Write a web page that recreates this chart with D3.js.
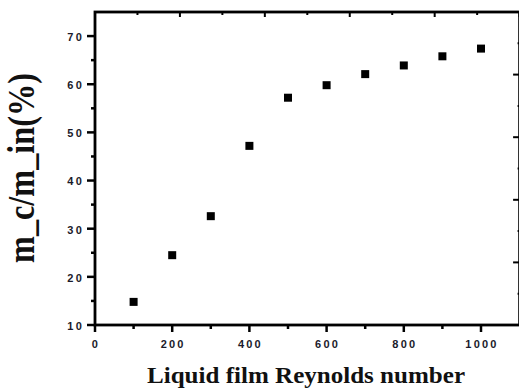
<!DOCTYPE html>
<html>
<head>
<meta charset="utf-8">
<script src="https://cdn.jsdelivr.net/npm/d3@7"></script>
<style>
  html, body { margin: 0; padding: 0; background: #fff; }
  svg { display: block; }
  .tick-label { font-family: "Liberation Sans", Arial, sans-serif; font-weight: bold; font-size: 11px; fill: #1a1a2a; letter-spacing: 2.2px; }
  .axis-title { font-family: "Liberation Serif", "Times New Roman", serif; font-weight: bold; fill: #111; }
</style>
</head>
<body>
<div id="chart"></div>
<script>
// data
const reynolds = [100, 200, 300, 400, 500, 600, 700, 800, 900, 1000];
const ratio = [14.8, 24.5, 32.6, 47.2, 57.2, 59.8, 62.1, 63.9, 65.8, 67.4];

const xTicks = [0, 100, 200, 300, 400, 500, 600, 700, 800, 900, 1000];
const xLabels = [0, 200, 400, 600, 800, 1000];
const yTicks = [10, 15, 20, 25, 30, 35, 40, 45, 50, 55, 60, 65, 70];
const yLabels = [10, 20, 30, 40, 50, 60, 70];
// top / right frame ticks (unlabelled, own subdivision)
const frameTicks = [0, 0.5, 1, 1.5, 2, 2.5, 3, 3.5, 4, 4.5, 5];

const W = 519, H = 391;
const plotLeft = 95, plotTop = 12, plotBottom = 325;

const x = d3.scaleLinear().domain([0, 1100]).range([plotLeft, 519.6]);
const y = d3.scaleLinear().domain([10, 75]).range([plotBottom, plotTop]);
const xf = d3.scaleLinear().domain([0, 5]).range([plotLeft, 519.6]);
const yf = d3.scaleLinear().domain([0, 5]).range([plotBottom, plotTop]);

const svg = d3.select("#chart").append("svg")
  .attr("width", W)
  .attr("height", H);

const isMajorX = v => xLabels.includes(v);
const isMajorY = v => yLabels.includes(v);
const isMajorF = v => Number.isInteger(v);

// bottom axis
const gx = svg.append("g").attr("transform", `translate(0,${plotBottom})`);
gx.selectAll("line.t").data(xTicks).join("line")
  .attr("x1", d => x(d)).attr("x2", d => x(d))
  .attr("y1", 0).attr("y2", d => isMajorX(d) ? 7 : 4)
  .attr("stroke", "#000").attr("stroke-width", 2.5);
gx.selectAll("text").data(xLabels).join("text")
  .attr("class", "tick-label")
  .attr("x", d => x(d) + 1)
  .attr("y", 23)
  .attr("text-anchor", "middle")
  .text(d => d);

// left axis
const gy = svg.append("g").attr("transform", `translate(${plotLeft},0)`);
gy.selectAll("line.t").data(yTicks).join("line")
  .attr("x1", 0).attr("x2", d => isMajorY(d) ? -8 : -4)
  .attr("y1", d => y(d)).attr("y2", d => y(d))
  .attr("stroke", "#000").attr("stroke-width", 2.5);
gy.selectAll("text").data(yLabels).join("text")
  .attr("class", "tick-label")
  .attr("x", -11)
  .attr("y", d => y(d) + 2)
  .attr("text-anchor", "end")
  .attr("dominant-baseline", "middle")
  .text(d => d);

// top frame ticks
svg.append("g").selectAll("line").data(frameTicks).join("line")
  .attr("x1", d => xf(d)).attr("x2", d => xf(d))
  .attr("y1", plotTop).attr("y2", d => plotTop + (isMajorF(d) ? 5 : 3))
  .attr("stroke", "#000").attr("stroke-width", 2);

// right frame ticks
svg.append("g").selectAll("line").data(frameTicks).join("line")
  .attr("x1", x(1100)).attr("x2", d => x(1100) - (isMajorF(d) ? 6.5 : 2))
  .attr("y1", d => yf(d)).attr("y2", d => yf(d))
  .attr("stroke", "#000").attr("stroke-width", 2);

// frame
svg.append("rect")
  .attr("x", plotLeft).attr("y", plotTop)
  .attr("width", x(1100) - plotLeft).attr("height", plotBottom - plotTop)
  .attr("fill", "none").attr("stroke", "#000").attr("stroke-width", 2.8);

// points
const sz = 8;
svg.append("g").selectAll("rect").data(reynolds).join("rect")
  .attr("x", (d, i) => x(d) - sz / 2)
  .attr("y", (d, i) => y(ratio[i]) - sz / 2)
  .attr("width", sz).attr("height", sz)
  .attr("fill", "#000");

// axis titles
svg.append("text")
  .attr("class", "axis-title")
  .attr("x", 306).attr("y", 383)
  .attr("text-anchor", "middle")
  .attr("font-size", 24)
  .attr("textLength", 318)
  .attr("lengthAdjust", "spacingAndGlyphs")
  .text("Liquid film Reynolds number");

svg.append("text")
  .attr("class", "axis-title")
  .attr("transform", "translate(34,168) rotate(-90)")
  .attr("text-anchor", "middle")
  .attr("font-size", 37)
  .attr("textLength", 190)
  .attr("lengthAdjust", "spacingAndGlyphs")
  .text("m_c/m_in(%)");
</script>
</body>
</html>
